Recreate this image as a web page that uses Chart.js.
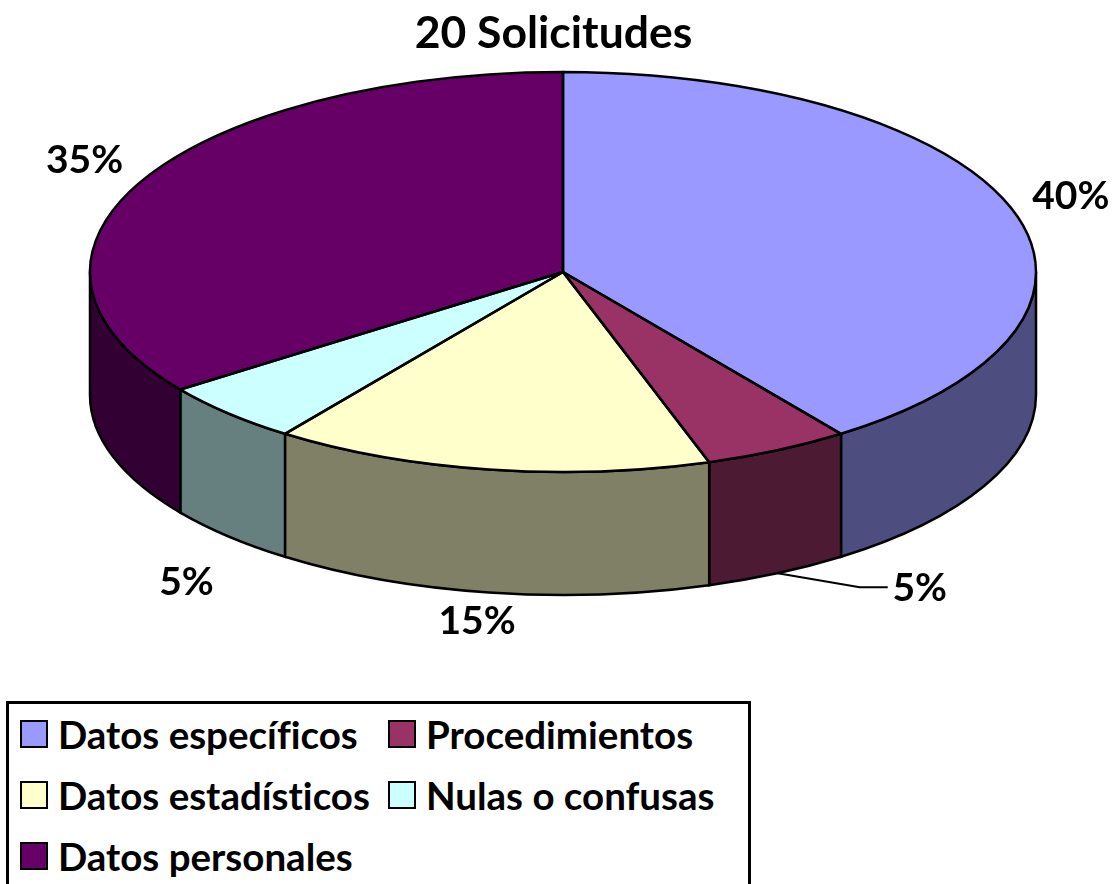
<!DOCTYPE html>
<html lang="es">
<head>
<meta charset="utf-8">
<title>20 Solicitudes</title>
<script src="https://cdn.jsdelivr.net/npm/chart.js@4"></script>
<style>
  html, body { margin: 0; height: 100%; background: #fff; overflow: hidden; }
  #wrap { position: absolute; left: 0; top: 0; width: 1115px; height: 884px; }
  #leyenda {
    position: absolute; left: 6px; top: 701px; width: 739px; height: 200px;
    border: 3px solid #000; background: #fff;
    font: bold 38.5px Lato, sans-serif; color: #000;
    font-variant-ligatures: none;
  }
  .item { position: absolute; display: flex; align-items: center; height: 40px; white-space: nowrap; }
  .item i { width: 24px; height: 24px; border: 2px solid #000; margin-right: 10px; flex: none; }
</style>
</head>
<body>
<div id="wrap"><canvas id="pieChart" width="1115" height="884"></canvas></div>
<div id="leyenda"></div>
<script>
// ==========================
// Datos
// ==========================
const categorias = ["Datos específicos", "Procedimientos", "Datos estadísticos", "Nulas o confusas", "Datos personales"];
const porcentajes = [40, 5, 15, 5, 35];
const colores = ["#9999FF", "#993366", "#FFFFCC", "#CCFFFF", "#660066"];
const coloresLado = ["#4D4D80", "#4D1A33", "#808066", "#668080", "#330033"];
const titulo = "20 Solicitudes";

// ==========================
// Aspecto del pastel "3D"
// ==========================
const radio = 473;
const aplastado = 200 / 473;
const grosor = 123;
const fuenteEtiqueta = "bold 39px Lato, sans-serif";
// desplazamiento de cada etiqueta respecto al borde exterior de su porción
const despEtiqueta = [[58, -14], [142, 15], [-12, 29], [-42, 46], [-57, -21]];

function lados(chart, fn) {
  chart.getDatasetMeta(0).data.forEach((arc, i) => fn(arc, i));
}

const pastel3d = {
  id: "pastel3d",
  afterLayout(chart) {
    // el titulo no esta centrado sobre el pastel, va un poco a la izquierda
    chart.titleBlock.left -= 19;
  },
  beforeDatasetsDraw(chart) {
    const ctx = chart.ctx;
    // pared lateral: solo la mitad delantera (angulos 0 a PI)
    lados(chart, (arc, i) => {
      const a0 = Math.max(arc.startAngle, 0);
      const a1 = Math.min(arc.endAngle, Math.PI);
      if (a1 <= a0) return;
      const ry = arc.outerRadius * aplastado;
      ctx.beginPath();
      ctx.ellipse(arc.x, arc.y + grosor, arc.outerRadius, ry, 0, a0, a1);
      ctx.ellipse(arc.x, arc.y, arc.outerRadius, ry, 0, a1, a0, true);
      ctx.closePath();
      ctx.fillStyle = coloresLado[i];
      ctx.fill();
      ctx.lineWidth = 2.5;
      ctx.strokeStyle = "#000";
      ctx.stroke();
    });
    // la tapa la dibuja Chart.js, aplastada en vertical
    const y = chart.getDatasetMeta(0).data[0].y;
    ctx.save();
    ctx.translate(0, y);
    ctx.scale(1, aplastado);
    ctx.translate(0, -y);
  },
  afterDatasetsDraw(chart) {
    const ctx = chart.ctx;
    ctx.restore();
    // contorno de la tapa
    lados(chart, arc => {
      ctx.beginPath();
      ctx.moveTo(arc.x, arc.y);
      ctx.ellipse(arc.x, arc.y, arc.outerRadius, arc.outerRadius * aplastado, 0, arc.startAngle, arc.endAngle);
      ctx.closePath();
      ctx.lineWidth = 2.5;
      ctx.strokeStyle = "#000";
      ctx.lineJoin = "round";
      ctx.stroke();
    });
    // etiquetas y linea guia
    ctx.font = fuenteEtiqueta;
    ctx.fillStyle = "#000";
    ctx.textAlign = "center";
    ctx.textBaseline = "middle";
    lados(chart, (arc, i) => {
      const m = (arc.startAngle + arc.endAngle) / 2;
      const bx = arc.x + arc.outerRadius * Math.cos(m);
      let by = arc.y + arc.outerRadius * aplastado * Math.sin(m);
      if (Math.sin(m) > 0) by += grosor;
      ctx.fillText(porcentajes[i] + "%", bx + despEtiqueta[i][0], by + despEtiqueta[i][1]);
      if (i === 1) {
        ctx.beginPath();
        ctx.moveTo(bx, by);
        ctx.lineTo(bx + 82, by + 14);
        ctx.lineTo(bx + 110, by + 14);
        ctx.lineWidth = 2;
        ctx.stroke();
      }
    });
  }
};

// ==========================
// Grafico
// ==========================
new Chart(document.getElementById("pieChart"), {
  type: "pie",
  data: {
    labels: categorias,
    datasets: [{
      data: porcentajes,
      backgroundColor: colores,
      borderWidth: 0,
      clip: false
    }]
  },
  options: {
    responsive: false,
    animation: false,
    radius: radio,
    layout: { padding: { left: 11, right: 0, top: 0, bottom: 400.4 } },
    plugins: {
      legend: { display: false },
      tooltip: { enabled: false },
      title: {
        display: true,
        text: titulo,
        color: "#000",
        font: { family: "Lato, sans-serif", size: 44.5, weight: "bold" },
        padding: { top: 7, bottom: 0 }
      }
    }
  },
  plugins: [pastel3d]
});

// ==========================
// Leyenda
// ==========================
const colLeyenda = [11, 379];
const filaLeyenda = [10, 71, 132];
const leyenda = document.getElementById("leyenda");
categorias.forEach((nombre, i) => {
  const item = document.createElement("div");
  item.className = "item";
  item.style.left = colLeyenda[i % 2] + "px";
  item.style.top = filaLeyenda[Math.floor(i / 2)] + "px";
  item.innerHTML = `<i style="background:${colores[i]}"></i>${nombre}`;
  leyenda.appendChild(item);
});
</script>
</body>
</html>
